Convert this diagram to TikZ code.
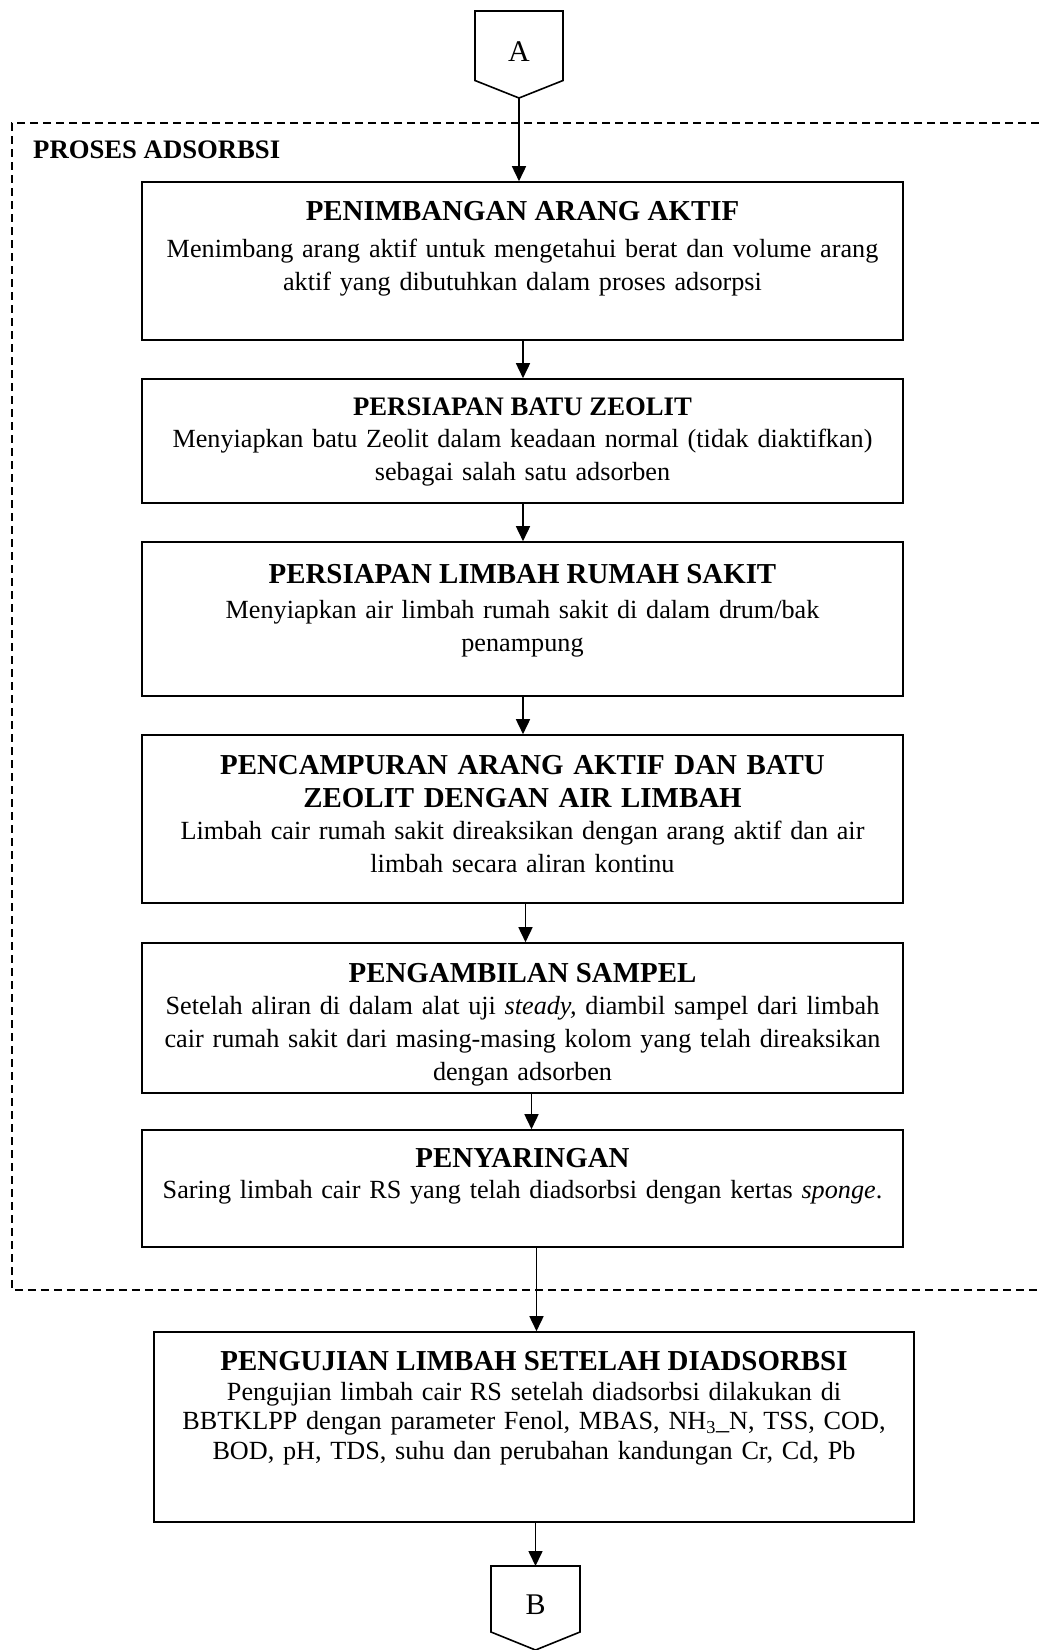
\documentclass[tikz,border=0pt]{standalone}
\usepackage{fontspec}
\setmainfont{Liberation Serif}
\usetikzlibrary{arrows.meta}
\begin{document}
\begin{tikzpicture}[x=1pt,y=-1pt,
  boxstyle/.style={draw, line width=1.6pt, inner sep=0pt},
  ttl/.style={inner sep=0pt, anchor=base, font=\fontsize{28.9pt}{33pt}\selectfont\bfseries},
  ttlsmall/.style={inner sep=0pt, anchor=base, font=\fontsize{26.7pt}{33pt}\selectfont\bfseries},
  body/.style={inner sep=0pt, anchor=base, text width=750pt, align=center, font=\fontsize{26.2pt}{33pt}\selectfont},
  arr/.style={line width=1.6pt, -{Triangle[length=15pt,width=14pt]}},
  frame/.style={line width=1.3pt, dash pattern=on 8pt off 5pt},
  offpage/.style={line width=1.6pt, line join=miter}]
\useasboundingbox (0,0) rectangle (1039,1650);
% dashed region
\draw[frame] (1039,123) -- (12,123) -- (12,1290) -- (1039,1290);
\node[inner sep=0pt, anchor=base west, font=\fontsize{26.7pt}{33pt}\selectfont\bfseries] (lbl) at (33,158) {PROSES ADSORBSI};
% connector A
\draw[offpage] (475,11) -- (563,11) -- (563,80.5) -- (519,98) -- (475,80.5) -- cycle;
\node[font=\fontsize{30pt}{33pt}\selectfont] (A) at (519,52) {A};
\coordinate (Atip) at (519,98);
% boxes
\node[boxstyle, minimum width=761pt, minimum height=158pt] (b1) at (522.5,261) {};
\node[ttl] (b1t) at (522.5,220) {PENIMBANGAN ARANG AKTIF};
\node[body] (b1d) at (522.5,257) {Menimbang arang aktif untuk mengetahui berat dan volume arang\\aktif yang dibutuhkan dalam proses adsorpsi};

\node[boxstyle, minimum width=761pt, minimum height=124pt] (b2) at (522.5,441) {};
\node[ttlsmall] (b2t) at (522.5,415) {PERSIAPAN BATU ZEOLIT};
\node[body] (b2d) at (522.5,447) {Menyiapkan batu Zeolit dalam keadaan normal (tidak diaktifkan)\\sebagai salah satu adsorben};

\node[boxstyle, minimum width=761pt, minimum height=154pt] (b3) at (522.5,619) {};
\node[ttl] (b3t) at (522.5,583) {PERSIAPAN LIMBAH RUMAH SAKIT};
\node[body] (b3d) at (522.5,618) {Menyiapkan air limbah rumah sakit di dalam drum/bak\\penampung};

\node[boxstyle, minimum width=761pt, minimum height=168pt] (b4) at (522.5,819) {};
\node[ttl, text width=750pt, align=center] (b4t) at (522.5,774) {PENCAMPURAN ARANG AKTIF DAN BATU\\ZEOLIT DENGAN AIR LIMBAH};
\node[body] (b4d) at (522.5,839) {Limbah cair rumah sakit direaksikan dengan arang aktif dan air\\limbah secara aliran kontinu};

\node[boxstyle, minimum width=761pt, minimum height=150pt] (b5) at (522.5,1018) {};
\node[ttl] (b5t) at (522.5,982) {PENGAMBILAN SAMPEL};
\node[body] (b5d) at (522.5,1014) {Setelah aliran di dalam alat uji \textit{steady,} diambil sampel dari limbah\\cair rumah sakit dari masing-masing kolom yang telah direaksikan\\dengan adsorben};

\node[boxstyle, minimum width=761pt, minimum height=117pt] (b6) at (522.5,1188.5) {};
\node[ttl] (b6t) at (522.5,1167) {PENYARINGAN};
\node[body] (b6d) at (522.5,1198) {Saring limbah cair RS yang telah diadsorbsi dengan kertas \textit{sponge}.};

\node[boxstyle, minimum width=760pt, minimum height=190pt] (b7) at (534,1427) {};
\node[ttl] (b7t) at (534,1370) {PENGUJIAN LIMBAH SETELAH DIADSORBSI};
\node[body, font=\fontsize{26.2pt}{29.5pt}\selectfont] (b7d) at (534,1400) {Pengujian limbah cair RS setelah diadsorbsi dilakukan di\\BBTKLPP dengan parameter Fenol, MBAS, NH\textsubscript{3}\_N, TSS, COD,\\BOD, pH, TDS, suhu dan perubahan kandungan Cr, Cd, Pb};

% connector B
\draw[offpage] (491,1566) -- (580,1566) -- (580,1632) -- (535.5,1650) -- (491,1632) -- cycle;
\node[font=\fontsize{30pt}{33pt}\selectfont] (B) at (535.5,1605) {B};
\coordinate (Btop) at (535.5,1566);

% arrows
\draw[arr] (Atip) -- (Atip |- b1.north);
\draw[arr] (523,0 |- b1.south) -- (523,0 |- b2.north);
\draw[arr] (523,0 |- b2.south) -- (523,0 |- b3.north);
\draw[arr] (523,0 |- b3.south) -- (523,0 |- b4.north);
\draw[arr] (525.5,0 |- b4.south) -- (525.5,0 |- b5.north);
\draw[arr] (531.5,0 |- b5.south) -- (531.5,0 |- b6.north);
\draw[arr] (536.5,0 |- b6.south) -- (536.5,0 |- b7.north);
\draw[arr] (535.5,0 |- b7.south) -- (Btop);
\end{tikzpicture}
\end{document}
